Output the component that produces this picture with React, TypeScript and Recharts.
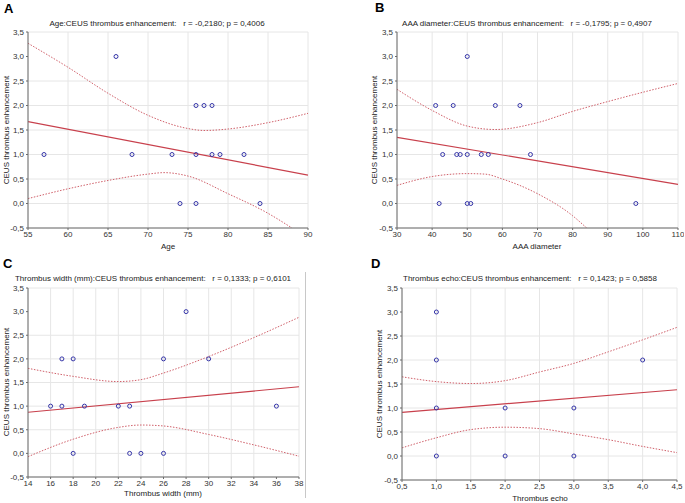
import React from 'react';
import { ComposedChart, Scatter, Line, XAxis, YAxis, CartesianGrid } from 'recharts';

type Pt = { x: number; y: number };

// Panel A: Age
const ageX = [57, 66, 68, 73, 74, 76, 77, 78, 76, 78, 79, 82, 76, 84];
const ageY = [1, 3, 1, 1, 0, 2, 2, 2, 1, 1, 1, 1, 0, 0];
const ageFitX = [55, 90];
const ageFitY = [1.67, 0.58];
const ageUpX = [55, 60, 65, 70, 75, 77, 80, 85, 90];
const ageUpY = [3.27, 2.78, 2.25, 1.8, 1.53, 1.49, 1.52, 1.65, 1.84];
const ageLoX = [55, 60, 65, 70, 72, 75, 80, 85, 88];
const ageLoY = [0.1, 0.3, 0.47, 0.6, 0.63, 0.56, 0.2, -0.2, -0.5];
const ageTicks = [55, 60, 65, 70, 75, 80, 85, 90];

// Panel B: AAA diameter
const aaaX = [41, 46, 58, 65, 50, 43, 47, 48, 50, 54, 56, 68, 42, 50, 51, 98];
const aaaY = [2, 2, 2, 2, 3, 1, 1, 1, 1, 1, 1, 1, 0, 0, 0, 0];
const aaaFitX = [30, 110];
const aaaFitY = [1.35, 0.39];
const aaaUpX = [30, 40, 50, 58, 70, 80, 90, 100, 110];
const aaaUpY = [2.33, 1.9, 1.58, 1.51, 1.65, 1.88, 2.08, 2.27, 2.45];
const aaaLoX = [30, 40, 50, 55, 60, 70, 80, 84];
const aaaLoY = [0.37, 0.55, 0.61, 0.6, 0.5, 0.2, -0.25, -0.5];
const aaaTicks = [30, 40, 50, 60, 70, 80, 90, 100, 110];

// Panel C: Thrombus width
const widX = [16, 17, 17, 18, 18, 19, 22, 23, 23, 24, 26, 26, 28, 30, 36];
const widY = [1, 1, 2, 2, 0, 1, 1, 1, 0, 0, 2, 0, 3, 2, 1];
const widFitX = [14, 38];
const widFitY = [0.87, 1.41];
const widUpX = [14, 18, 22, 24, 26, 30, 34, 38];
const widUpY = [1.8, 1.63, 1.52, 1.56, 1.7, 2.05, 2.45, 2.88];
const widLoX = [14, 18, 22, 24, 26, 30, 34, 38];
const widLoY = [-0.07, 0.3, 0.55, 0.6, 0.58, 0.4, 0.18, -0.06];
const widTicks = [14, 16, 18, 20, 22, 24, 26, 28, 30, 32, 34, 36, 38];

// Panel D: Thrombus echo
const echoX = [1, 1, 1, 1, 2, 2, 3, 3, 4];
const echoY = [3, 2, 1, 0, 1, 0, 1, 0, 2];
const echoFitX = [0.5, 4.5];
const echoFitY = [0.91, 1.38];
const echoUpX = [0.5, 1, 1.5, 2, 2.5, 3, 3.5, 4, 4.5];
const echoUpY = [1.65, 1.55, 1.51, 1.57, 1.75, 1.93, 2.17, 2.42, 2.68];
const echoLoX = [0.5, 1, 1.5, 2, 2.5, 3, 3.5, 4, 4.5];
const echoLoY = [0.17, 0.38, 0.55, 0.6, 0.57, 0.46, 0.34, 0.2, 0.07];
const echoTicks = [0.5, 1, 1.5, 2, 2.5, 3, 3.5, 4, 4.5];

const yTicks = [-0.5, 0, 0.5, 1, 1.5, 2, 2.5, 3, 3.5];

const FONT = '"Liberation Sans", Arial, sans-serif';
const FRAME = '#6b6b6b';
const GRID = '#e6e6e6';
const RED = '#c8404c';
const BAND = '#d0606a';
const BLUE = '#3535a8';

const zip = (xs: number[], ys: number[]): Pt[] => xs.map((x, i) => ({ x, y: ys[i] }));
const steps = (a: number, b: number, s: number) => {
  const out: number[] = [];
  for (let v = a; v <= b + 1e-9; v += s) out.push(Math.round(v * 100) / 100);
  return out;
};
const comma = (d: number) => (v: number) => v.toFixed(d).replace('.', ',');

const Dot = (props: any) => {
  const { cx, cy } = props;
  if (cx == null || cy == null) return <g />;
  return <circle cx={cx} cy={cy} r={2} fill="none" stroke={BLUE} strokeWidth={1} />;
};

interface PanelProps {
  box: { left: number; top: number; width: number; height: number };
  domain: [number, number];
  ticks: number[];
  minorStep: number;
  xDec: number;
  points: Pt[];
  fit: Pt[];
  upper: Pt[];
  lower: Pt[];
}

const ML = 30;
const MT = 6;
const MR = 6;
const MB = 20;

const Panel = ({ box, domain, ticks, minorStep, xDec, points, fit, upper, lower }: PanelProps) => {
  const tickStyle = { fontSize: 8, fill: '#333', fontFamily: FONT };
  const xMinor = steps(domain[0], domain[1], minorStep);
  const yMinor = steps(-0.5, 3.5, 0.1);
  return (
    <div style={{ position: 'absolute', left: box.left - ML, top: box.top - MT }}>
      <ComposedChart
        width={box.width + ML + MR}
        height={box.height + MT + MB}
        margin={{ top: MT, right: MR, bottom: 0, left: 0 }}
      >
        <CartesianGrid stroke={GRID} strokeWidth={1} />
        <XAxis xAxisId="mb" type="number" dataKey="x" domain={domain} ticks={xMinor} orientation="bottom" mirror height={0}
          tick={false} tickSize={2} axisLine={false} tickLine={{ stroke: FRAME }} />
        <XAxis xAxisId="mt" type="number" dataKey="x" domain={domain} ticks={xMinor} orientation="top" mirror height={0}
          tick={false} tickSize={2} axisLine={{ stroke: FRAME }} tickLine={{ stroke: FRAME }} />
        <YAxis yAxisId="ml" type="number" domain={[-0.5, 3.5]} ticks={yMinor} orientation="left" mirror width={0}
          tick={false} tickSize={2} axisLine={false} tickLine={{ stroke: FRAME }} />
        <YAxis yAxisId="mr" type="number" domain={[-0.5, 3.5]} ticks={yMinor} orientation="right" mirror width={0}
          tick={false} tickSize={2} axisLine={{ stroke: FRAME }} tickLine={{ stroke: FRAME }} />
        <XAxis type="number" dataKey="x" domain={domain} ticks={ticks} allowDataOverflow height={MB}
          tick={tickStyle} tickFormatter={xDec > 0 ? comma(xDec) : (v: number) => String(v)}
          tickSize={2} tickMargin={1} axisLine={{ stroke: FRAME }} tickLine={{ stroke: FRAME }} />
        <YAxis type="number" domain={[-0.5, 3.5]} ticks={yTicks} allowDataOverflow width={ML}
          tick={tickStyle} tickFormatter={comma(1)}
          tickSize={2} tickMargin={2} axisLine={{ stroke: FRAME }} tickLine={{ stroke: FRAME }} />
        <Line data={upper} dataKey="y" type="monotone" stroke={BAND} strokeWidth={1} strokeDasharray="1.5 1.5" dot={false} isAnimationActive={false} />
        <Line data={lower} dataKey="y" type="monotone" stroke={BAND} strokeWidth={1} strokeDasharray="1.5 1.5" dot={false} isAnimationActive={false} />
        <Line data={fit} dataKey="y" type="linear" stroke={RED} strokeWidth={1.2} dot={false} isAnimationActive={false} />
        <Scatter data={points} dataKey="y" shape={<Dot />} isAnimationActive={false} />
      </ComposedChart>
    </div>
  );
};

const Txt = ({ x, y, children, size = 8, rotate = false }: any) => (
  <div
    style={{
      position: 'absolute',
      left: x,
      top: y,
      transform: `translate(-50%, -50%)${rotate ? ' rotate(-90deg)' : ''}`,
      fontFamily: FONT,
      fontSize: size,
      color: '#222',
      whiteSpace: 'pre',
      lineHeight: 1,
    }}
  >
    {children}
  </div>
);

const Letter = ({ x, y, children }: any) => (
  <div style={{ position: 'absolute', left: x, top: y, fontFamily: FONT, fontWeight: 700, fontSize: 13, color: '#000', lineHeight: 'normal' }}>
    {children}
  </div>
);

export default function App() {
  const yLab = 'CEUS thrombus enhancement';
  return (
    <div style={{ position: 'absolute', left: 0, top: 0, width: 685, height: 503, background: '#fff', overflow: 'hidden' }}>
      <Letter x={4} y={1}>A</Letter>
      <Letter x={375} y={0}>B</Letter>
      <Letter x={3} y={256}>C</Letter>
      <Letter x={371} y={256}>D</Letter>

      <Txt x={157} y={24}>{'Age:CEUS thrombus enhancement:   r = -0,2180; p = 0,4006'}</Txt>
      <Txt x={527} y={24}>{'AAA diameter:CEUS thrombus enhancement:   r = -0,1795; p = 0,4907'}</Txt>
      <Txt x={153} y={279}>{'Thrombus width (mm):CEUS thrombus enhancement:   r = 0,1333; p = 0,6101'}</Txt>
      <Txt x={530} y={279}>{'Thrombus echo:CEUS thrombus enhancement:   r = 0,1423; p = 0,5858'}</Txt>

      <Txt x={7} y={130} rotate>{yLab}</Txt>
      <Txt x={375} y={130} rotate>{yLab}</Txt>
      <Txt x={7} y={382} rotate>{yLab}</Txt>
      <Txt x={380} y={384} rotate>{yLab}</Txt>

      <Txt x={168} y={247}>Age</Txt>
      <Txt x={537} y={247}>AAA diameter</Txt>
      <Txt x={163} y={494}>Thrombus width (mm)</Txt>
      <Txt x={540} y={499}>Thrombus echo</Txt>

      <div style={{ position: 'absolute', left: 305, top: 272, width: 1, height: 226, background: '#c8c8c8' }} />

      <Panel box={{ left: 28, top: 32, width: 280, height: 196 }} domain={[55, 90]} ticks={ageTicks} minorStep={1} xDec={0}
        points={zip(ageX, ageY)} fit={zip(ageFitX, ageFitY)} upper={zip(ageUpX, ageUpY)} lower={zip(ageLoX, ageLoY)} />
      <Panel box={{ left: 397, top: 32, width: 281, height: 196 }} domain={[30, 110]} ticks={aaaTicks} minorStep={2} xDec={0}
        points={zip(aaaX, aaaY)} fit={zip(aaaFitX, aaaFitY)} upper={zip(aaaUpX, aaaUpY)} lower={zip(aaaLoX, aaaLoY)} />
      <Panel box={{ left: 28, top: 288, width: 271, height: 189 }} domain={[14, 38]} ticks={widTicks} minorStep={0.5} xDec={0}
        points={zip(widX, widY)} fit={zip(widFitX, widFitY)} upper={zip(widUpX, widUpY)} lower={zip(widLoX, widLoY)} />
      <Panel box={{ left: 402, top: 288, width: 275, height: 192 }} domain={[0.5, 4.5]} ticks={echoTicks} minorStep={0.1} xDec={1}
        points={zip(echoX, echoY)} fit={zip(echoFitX, echoFitY)} upper={zip(echoUpX, echoUpY)} lower={zip(echoLoX, echoLoY)} />
    </div>
  );
}
